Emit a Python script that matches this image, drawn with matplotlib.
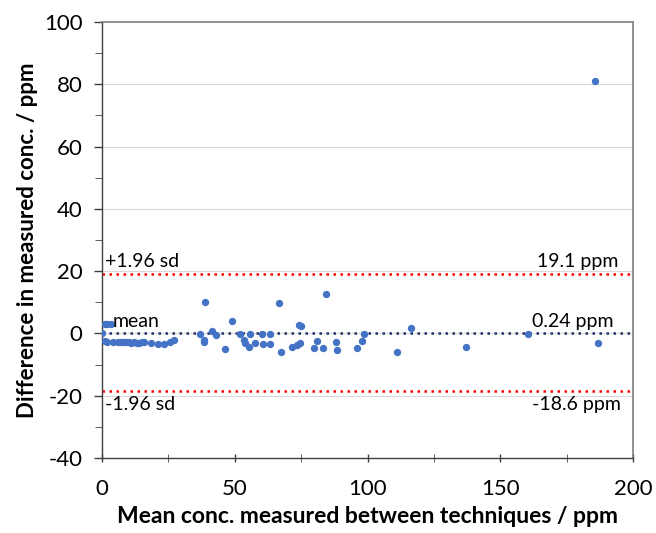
import matplotlib

matplotlib.use("Agg")
import matplotlib.pyplot as plt
from matplotlib.ticker import MultipleLocator

# Bland-Altman data
mean_conc = [
    0.0, 1.0, 2.0, 3.5,
    1.0, 2.0, 4.0, 6.0, 7.0, 8.0, 9.0, 10.0, 11.0, 12.0, 13.0, 14.0, 15.0, 16.0,
    18.5, 21.0, 23.5, 25.5, 27.0,
    37.0, 38.5, 38.5, 38.9, 41.4, 43.0, 46.4, 48.9,
    52.0, 53.3, 54.0, 55.2, 55.8, 57.7, 60.3, 60.6, 63.4, 63.4,
    66.5, 67.5, 71.6, 73.5, 74.1, 74.5, 75.0,
    80.0, 81.0, 83.2, 84.2, 88.0, 88.4, 96.1, 98.1, 98.6,
    111.2, 116.2, 137.1, 160.3, 186.9, 185.8,
]
diff_conc = [
    0.0, 2.9, 3.0, 2.9,
    -2.5, -2.7, -2.9, -2.8, -2.9, -2.7, -2.8, -2.9, -3.0, -2.9, -3.1, -3.0, -2.8, -2.9,
    -3.0, -3.3, -3.4, -2.6, -2.0,
    -0.2, -2.2, -2.9, 10.2, 0.8, -0.4, -5.1, 4.0,
    -0.3, -2.1, -3.2, -4.3, -0.3, -3.2, -0.3, -3.5, -0.3, -3.5,
    9.8, -5.9, -4.3, -3.6, 2.8, -3.1, 2.3,
    -4.6, -2.4, -4.6, 12.8, -2.7, -5.3, -4.6, -2.4, -0.3,
    -6.0, 1.7, -4.5, -0.3, -3.2, 81.0,
]

bias = 0.24
upper_loa = 19.1
lower_loa = -18.6

plt.rcParams["font.family"] = ["Lato", "DejaVu Sans"]
plt.rcParams["axes.unicode_minus"] = False

fig = plt.figure(figsize=(6.56, 5.33), dpi=100)
ax = fig.add_axes([0.1555, 0.1407, 0.8095, 0.818])

ax.axhline(upper_loa, color="#ff0000", linestyle=(0, (1, 1.8)), linewidth=1.8, zorder=2)
ax.axhline(lower_loa, color="#ff0000", linestyle=(0, (1, 1.8)), linewidth=1.8, zorder=2)
ax.axhline(bias, color="#1f2f6b", linestyle=(0, (1, 1.8)), linewidth=1.8, zorder=2)

ax.scatter(mean_conc, diff_conc, s=28, color="#4472c4", zorder=3, linewidths=0)

ax.set_xlim(0, 200)
ax.set_ylim(-40, 100)
ax.xaxis.set_major_locator(MultipleLocator(50))
ax.xaxis.set_minor_locator(MultipleLocator(25))
ax.yaxis.set_major_locator(MultipleLocator(20))
ax.yaxis.set_minor_locator(MultipleLocator(10))
ax.grid(axis="y", which="major", color="#d9d9d9", linewidth=0.8, zorder=0)
ax.set_axisbelow(True)

for side in ("top", "right"):
    ax.spines[side].set_color("#7f7f7f")
    ax.spines[side].set_linewidth(1.2)
for side in ("left", "bottom"):
    ax.spines[side].set_color("#404040")
    ax.spines[side].set_linewidth(1.0)

ax.tick_params(axis="both", which="major", labelsize=16, length=6, width=1,
               color="#404040", labelcolor="black")
ax.tick_params(axis="x", which="both", direction="inout", pad=12)
ax.tick_params(axis="x", which="minor", length=6, color="#404040")
ax.tick_params(axis="y", which="minor", length=5, color="#404040")
ax.tick_params(axis="y", which="major", pad=8)

ax.set_xlabel("Mean conc. measured between techniques / ppm", fontsize=16.5,
              fontweight="bold", labelpad=5)
ax.set_ylabel("Difference in measured conc. / ppm", fontsize=16,
              fontweight="bold", labelpad=4)

txt = dict(fontsize=14, color="black", zorder=4)
ax.text(1.0, upper_loa + 1.2, "+1.96 sd", ha="left", va="bottom", **txt)
ax.text(164, upper_loa + 1.2, "19.1 ppm", ha="left", va="bottom", **txt)
ax.text(4.0, bias + 0.8, "mean", ha="left", va="bottom", **txt)
ax.text(162, bias + 0.8, "0.24 ppm", ha="left", va="bottom", **txt)
ax.text(1.0, lower_loa - 1.5, "-1.96 sd", ha="left", va="top", **txt)
ax.text(162, lower_loa - 1.5, "-18.6 ppm", ha="left", va="top", **txt)

fig.savefig("out.png", dpi=100)
